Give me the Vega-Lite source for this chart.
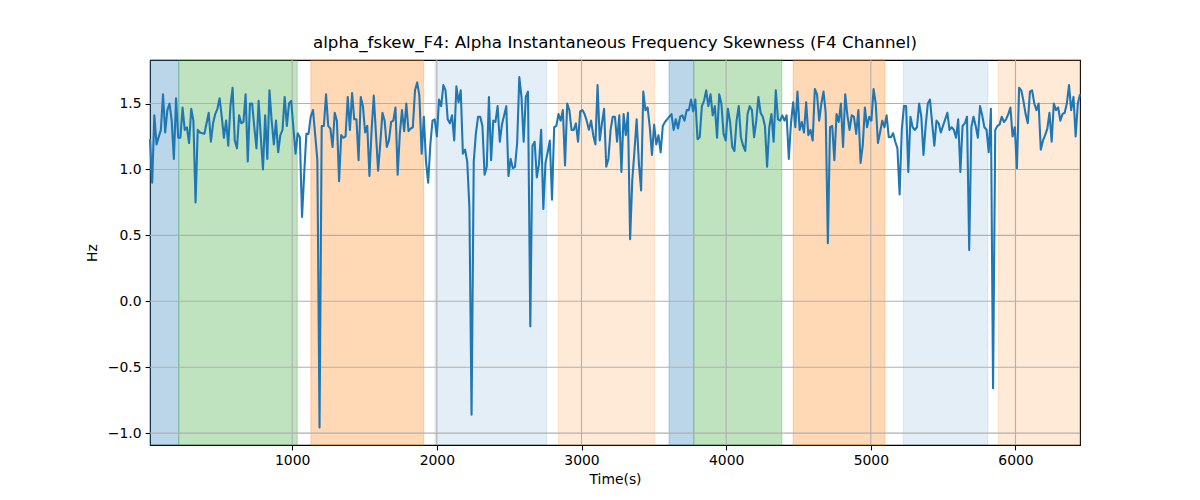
{
  "$schema": "https://vega.github.io/schema/vega-lite/v6.json",
  "width": 930,
  "height": 385,
  "autosize": {"type": "none"},
  "padding": {"left": 150, "top": 60, "right": 120, "bottom": 55},
  "background": "white",
  "title": {
    "text": "alpha_fskew_F4: Alpha Instantaneous Frequency Skewness (F4 Channel)",
    "font": "DejaVu Sans",
    "fontSize": 16.7,
    "fontWeight": "normal",
    "color": "black",
    "offset": 8
  },
  "config": {
    "view": {"stroke": "black", "strokeWidth": 1.1},
    "axis": {
      "domain": false,
      "grid": false,
      "tickColor": "black",
      "tickSize": 4.9,
      "tickWidth": 1.1,
      "labelFont": "DejaVu Sans",
      "labelFontSize": 13.9,
      "labelColor": "black",
      "labelPadding": 4,
      "titleFont": "DejaVu Sans",
      "titleFontSize": 13.9,
      "titleFontWeight": "normal",
      "titleColor": "black"
    }
  },
  "datasets": {
    "bands": [
      {"start": 17, "end": 216, "stage": "A"},
      {"start": 216, "end": 1035, "stage": "B"},
      {"start": 1129, "end": 1909, "stage": "C"},
      {"start": 1987, "end": 2759, "stage": "D"},
      {"start": 2840, "end": 3506, "stage": "E"},
      {"start": 3605, "end": 3776, "stage": "A"},
      {"start": 3776, "end": 4385, "stage": "B"},
      {"start": 4463, "end": 5097, "stage": "C"},
      {"start": 5225, "end": 5809, "stage": "D"},
      {"start": 5882, "end": 6446, "stage": "E"}
    ],
    "xgrid": [{"t": 1000}, {"t": 2000}, {"t": 3000}, {"t": 4000}, {"t": 5000}, {"t": 6000}],
    "ygrid": [{"v": -1}, {"v": -0.5}, {"v": 0}, {"v": 0.5}, {"v": 1}, {"v": 1.5}],
    "series": [
      {"t":17,"v":1.23},{"t":32,"v":0.90},{"t":47,"v":1.41},{"t":62,"v":1.19},{"t":77,"v":1.245},
      {"t":92,"v":1.30},{"t":107,"v":1.57},{"t":122,"v":1.28},{"t":137,"v":1.45},{"t":152,"v":1.50},
      {"t":167,"v":1.37},{"t":182,"v":1.08},{"t":197,"v":1.54},{"t":212,"v":1.24},{"t":227,"v":1.24},
      {"t":242,"v":1.47},{"t":257,"v":1.30},{"t":272,"v":1.32},{"t":287,"v":1.20},{"t":302,"v":1.46},
      {"t":317,"v":1.37},{"t":332,"v":0.75},{"t":347,"v":1.30},{"t":362,"v":1.28},{"t":377,"v":1.275},
      {"t":393,"v":1.27},{"t":408,"v":1.35},{"t":423,"v":1.43},{"t":438,"v":1.21},{"t":453,"v":1.35},
      {"t":468,"v":1.42},{"t":483,"v":1.46},{"t":498,"v":1.54},{"t":513,"v":1.40},{"t":528,"v":1.24},
      {"t":543,"v":1.37},{"t":558,"v":1.18},{"t":573,"v":1.48},{"t":588,"v":1.62},{"t":603,"v":1.22},
      {"t":618,"v":1.16},{"t":633,"v":1.41},{"t":648,"v":1.35},{"t":663,"v":1.36},{"t":678,"v":1.57},
      {"t":693,"v":1.06},{"t":708,"v":1.50},{"t":723,"v":1.50},{"t":738,"v":1.32},{"t":753,"v":1.16},
      {"t":768,"v":1.52},{"t":783,"v":1.245},{"t":798,"v":1.00},{"t":813,"v":1.41},{"t":828,"v":1.08},
      {"t":843,"v":1.60},{"t":858,"v":1.37},{"t":873,"v":1.19},{"t":888,"v":1.37},{"t":903,"v":1.13},
      {"t":918,"v":1.26},{"t":933,"v":1.30},{"t":948,"v":1.55},{"t":963,"v":1.33},{"t":978,"v":1.50},
      {"t":993,"v":1.52},{"t":1008,"v":1.32},{"t":1023,"v":1.12},{"t":1038,"v":1.275},{"t":1053,"v":1.245},
      {"t":1068,"v":0.64},{"t":1083,"v":0.97},{"t":1098,"v":1.27},{"t":1113,"v":1.27},{"t":1128,"v":1.40},
      {"t":1144,"v":1.45},{"t":1159,"v":1.26},{"t":1174,"v":1.07},{"t":1189,"v":-0.957},{"t":1204,"v":1.33},
      {"t":1219,"v":1.33},{"t":1234,"v":1.57},{"t":1249,"v":1.33},{"t":1264,"v":1.31},{"t":1279,"v":1.17},
      {"t":1294,"v":1.43},{"t":1309,"v":1.37},{"t":1324,"v":0.91},{"t":1339,"v":1.26},{"t":1354,"v":1.24},
      {"t":1369,"v":1.25},{"t":1384,"v":1.55},{"t":1399,"v":1.30},{"t":1414,"v":1.58},{"t":1429,"v":1.38},
      {"t":1444,"v":1.38},{"t":1459,"v":1.07},{"t":1474,"v":1.55},{"t":1489,"v":1.48},{"t":1504,"v":1.28},
      {"t":1519,"v":1.33},{"t":1534,"v":0.95},{"t":1549,"v":1.30},{"t":1564,"v":1.56},{"t":1579,"v":1.27},
      {"t":1594,"v":0.99},{"t":1609,"v":1.20},{"t":1624,"v":1.43},{"t":1639,"v":1.37},{"t":1654,"v":1.17},
      {"t":1669,"v":1.22},{"t":1684,"v":1.36},{"t":1699,"v":1.37},{"t":1714,"v":1.47},{"t":1729,"v":0.96},
      {"t":1744,"v":1.27},{"t":1759,"v":1.45},{"t":1774,"v":1.29},{"t":1789,"v":1.50},{"t":1804,"v":1.29},
      {"t":1819,"v":1.31},{"t":1834,"v":1.32},{"t":1849,"v":1.60},{"t":1864,"v":1.66},{"t":1879,"v":1.56},
      {"t":1895,"v":1.12},{"t":1910,"v":1.40},{"t":1925,"v":1.06},{"t":1940,"v":0.90},{"t":1955,"v":1.19},
      {"t":1970,"v":1.37},{"t":1985,"v":1.38},{"t":2000,"v":1.25},{"t":2015,"v":1.53},{"t":2030,"v":1.48},
      {"t":2045,"v":1.64},{"t":2060,"v":1.60},{"t":2075,"v":1.38},{"t":2090,"v":1.35},{"t":2105,"v":1.41},
      {"t":2120,"v":1.22},{"t":2135,"v":1.63},{"t":2150,"v":1.51},{"t":2165,"v":1.60},{"t":2180,"v":1.12},
      {"t":2195,"v":1.15},{"t":2210,"v":1.06},{"t":2225,"v":0.71},{"t":2240,"v":-0.86},{"t":2255,"v":1.06},
      {"t":2270,"v":1.275},{"t":2285,"v":1.40},{"t":2300,"v":1.40},{"t":2315,"v":1.33},{"t":2330,"v":0.96},
      {"t":2345,"v":1.02},{"t":2360,"v":1.55},{"t":2375,"v":1.07},{"t":2390,"v":1.37},{"t":2405,"v":1.36},
      {"t":2420,"v":1.48},{"t":2435,"v":1.21},{"t":2450,"v":1.34},{"t":2465,"v":1.41},{"t":2480,"v":1.48},
      {"t":2495,"v":0.95},{"t":2510,"v":1.08},{"t":2525,"v":1.01},{"t":2540,"v":1.02},{"t":2555,"v":1.20},
      {"t":2570,"v":1.70},{"t":2585,"v":1.55},{"t":2600,"v":1.21},{"t":2615,"v":1.55},{"t":2630,"v":1.59},
      {"t":2646,"v":-0.19},{"t":2661,"v":1.18},{"t":2676,"v":1.21},{"t":2691,"v":0.94},{"t":2706,"v":1.04},
      {"t":2721,"v":1.30},{"t":2736,"v":0.70},{"t":2751,"v":1.05},{"t":2766,"v":1.13},{"t":2781,"v":1.22},
      {"t":2796,"v":0.77},{"t":2811,"v":1.32},{"t":2826,"v":1.33},{"t":2841,"v":1.42},{"t":2856,"v":1.37},
      {"t":2871,"v":1.45},{"t":2886,"v":1.03},{"t":2901,"v":1.50},{"t":2916,"v":1.45},{"t":2931,"v":1.30},
      {"t":2946,"v":1.30},{"t":2961,"v":1.35},{"t":2976,"v":1.21},{"t":2991,"v":1.44},{"t":3006,"v":1.45},
      {"t":3021,"v":1.42},{"t":3036,"v":1.37},{"t":3051,"v":1.30},{"t":3066,"v":1.37},{"t":3081,"v":1.26},
      {"t":3096,"v":1.19},{"t":3111,"v":1.64},{"t":3126,"v":1.22},{"t":3141,"v":1.35},{"t":3156,"v":1.46},
      {"t":3171,"v":1.02},{"t":3186,"v":1.08},{"t":3201,"v":1.30},{"t":3216,"v":1.40},{"t":3231,"v":1.40},
      {"t":3246,"v":1.21},{"t":3261,"v":1.41},{"t":3276,"v":0.98},{"t":3291,"v":1.42},{"t":3306,"v":1.26},
      {"t":3321,"v":1.43},{"t":3336,"v":0.47},{"t":3351,"v":0.92},{"t":3366,"v":1.14},{"t":3381,"v":1.38},
      {"t":3397,"v":1.04},{"t":3412,"v":0.84},{"t":3427,"v":1.59},{"t":3442,"v":1.45},{"t":3457,"v":1.47},
      {"t":3472,"v":1.32},{"t":3487,"v":1.11},{"t":3502,"v":1.34},{"t":3517,"v":1.19},{"t":3532,"v":1.26},
      {"t":3547,"v":1.13},{"t":3562,"v":1.33},{"t":3577,"v":1.36},{"t":3592,"v":1.38},{"t":3607,"v":1.40},
      {"t":3622,"v":1.42},{"t":3637,"v":1.30},{"t":3652,"v":1.38},{"t":3667,"v":1.31},{"t":3682,"v":1.40},
      {"t":3697,"v":1.41},{"t":3712,"v":1.37},{"t":3727,"v":1.45},{"t":3742,"v":1.45},{"t":3757,"v":1.53},
      {"t":3772,"v":1.44},{"t":3787,"v":1.53},{"t":3802,"v":1.23},{"t":3817,"v":1.245},{"t":3832,"v":1.48},
      {"t":3847,"v":1.52},{"t":3862,"v":1.60},{"t":3877,"v":1.48},{"t":3892,"v":1.57},{"t":3907,"v":1.41},
      {"t":3922,"v":1.48},{"t":3937,"v":1.24},{"t":3952,"v":1.57},{"t":3967,"v":1.50},{"t":3982,"v":1.27},
      {"t":3997,"v":1.22},{"t":4012,"v":1.46},{"t":4027,"v":1.36},{"t":4042,"v":1.17},{"t":4057,"v":1.14},
      {"t":4072,"v":1.37},{"t":4087,"v":1.48},{"t":4102,"v":1.245},{"t":4117,"v":1.18},{"t":4132,"v":1.14},
      {"t":4148,"v":1.42},{"t":4163,"v":1.48},{"t":4178,"v":1.45},{"t":4193,"v":1.245},{"t":4208,"v":1.37},
      {"t":4223,"v":1.55},{"t":4238,"v":1.43},{"t":4253,"v":1.40},{"t":4268,"v":1.33},{"t":4283,"v":1.02},
      {"t":4298,"v":1.32},{"t":4313,"v":1.42},{"t":4328,"v":1.21},{"t":4343,"v":1.60},{"t":4358,"v":1.38},
      {"t":4373,"v":1.37},{"t":4388,"v":1.41},{"t":4403,"v":1.37},{"t":4418,"v":1.41},{"t":4433,"v":1.08},
      {"t":4448,"v":1.35},{"t":4463,"v":1.51},{"t":4478,"v":1.32},{"t":4493,"v":1.59},{"t":4508,"v":1.30},
      {"t":4523,"v":1.36},{"t":4538,"v":1.28},{"t":4553,"v":1.51},{"t":4568,"v":1.26},{"t":4583,"v":1.30},
      {"t":4598,"v":1.22},{"t":4613,"v":1.61},{"t":4628,"v":1.57},{"t":4643,"v":1.37},{"t":4658,"v":1.50},
      {"t":4673,"v":1.59},{"t":4688,"v":1.43},{"t":4703,"v":0.44},{"t":4718,"v":1.32},{"t":4733,"v":1.33},
      {"t":4748,"v":1.07},{"t":4763,"v":1.42},{"t":4778,"v":1.36},{"t":4793,"v":1.50},{"t":4808,"v":1.17},
      {"t":4823,"v":1.57},{"t":4838,"v":1.41},{"t":4853,"v":1.30},{"t":4868,"v":1.41},{"t":4883,"v":1.40},
      {"t":4899,"v":1.27},{"t":4914,"v":1.45},{"t":4929,"v":1.05},{"t":4944,"v":1.18},{"t":4959,"v":1.47},
      {"t":4974,"v":1.32},{"t":4989,"v":1.40},{"t":5004,"v":1.37},{"t":5019,"v":1.61},{"t":5034,"v":1.50},
      {"t":5049,"v":1.20},{"t":5064,"v":1.28},{"t":5079,"v":1.37},{"t":5094,"v":1.32},{"t":5109,"v":1.41},
      {"t":5124,"v":1.245},{"t":5139,"v":1.245},{"t":5154,"v":1.275},{"t":5169,"v":1.21},{"t":5184,"v":1.16},
      {"t":5199,"v":0.81},{"t":5214,"v":1.30},{"t":5229,"v":1.48},{"t":5244,"v":1.48},{"t":5259,"v":0.98},
      {"t":5274,"v":1.40},{"t":5289,"v":1.32},{"t":5304,"v":1.30},{"t":5319,"v":1.32},{"t":5334,"v":1.50},
      {"t":5349,"v":1.40},{"t":5364,"v":1.11},{"t":5379,"v":1.33},{"t":5394,"v":1.50},{"t":5409,"v":1.53},
      {"t":5424,"v":1.35},{"t":5439,"v":1.18},{"t":5454,"v":1.37},{"t":5469,"v":1.35},{"t":5484,"v":1.28},
      {"t":5499,"v":1.33},{"t":5514,"v":1.38},{"t":5529,"v":1.43},{"t":5544,"v":1.30},{"t":5559,"v":1.32},
      {"t":5574,"v":1.30},{"t":5589,"v":1.24},{"t":5604,"v":1.38},{"t":5619,"v":0.98},{"t":5634,"v":1.33},
      {"t":5650,"v":1.35},{"t":5665,"v":1.40},{"t":5680,"v":0.39},{"t":5695,"v":1.32},{"t":5710,"v":1.40},
      {"t":5725,"v":1.33},{"t":5740,"v":1.24},{"t":5755,"v":1.48},{"t":5770,"v":1.41},{"t":5785,"v":1.32},
      {"t":5800,"v":1.30},{"t":5815,"v":1.13},{"t":5830,"v":1.46},{"t":5845,"v":-0.66},{"t":5860,"v":1.30},
      {"t":5875,"v":1.33},{"t":5890,"v":1.34},{"t":5905,"v":1.40},{"t":5920,"v":1.36},{"t":5935,"v":1.38},
      {"t":5950,"v":1.42},{"t":5965,"v":1.47},{"t":5980,"v":1.25},{"t":5995,"v":1.32},{"t":6010,"v":1.01},
      {"t":6025,"v":1.62},{"t":6040,"v":1.60},{"t":6055,"v":1.52},{"t":6070,"v":1.42},{"t":6085,"v":1.35},
      {"t":6100,"v":1.59},{"t":6115,"v":1.60},{"t":6130,"v":1.50},{"t":6145,"v":1.45},{"t":6160,"v":1.50},
      {"t":6175,"v":1.15},{"t":6190,"v":1.22},{"t":6205,"v":1.26},{"t":6220,"v":1.31},{"t":6235,"v":1.43},
      {"t":6250,"v":1.21},{"t":6265,"v":1.50},{"t":6280,"v":1.45},{"t":6295,"v":1.47},{"t":6310,"v":1.37},
      {"t":6325,"v":1.42},{"t":6340,"v":1.43},{"t":6355,"v":1.50},{"t":6370,"v":1.64},{"t":6385,"v":1.45},
      {"t":6401,"v":1.55},{"t":6416,"v":1.25},{"t":6431,"v":1.50},{"t":6446,"v":1.57}
    ]
  },
  "layer": [
    {
      "data": {"name": "bands"},
      "mark": {"type": "rect", "strokeWidth": 1},
      "encoding": {
        "x": {
          "field": "start",
          "type": "quantitative",
          "scale": {"domain": [17, 6446], "nice": false, "zero": false},
          "axis": {"values": [1000, 2000, 3000, 4000, 5000, 6000], "format": "d", "title": "Time(s)", "titlePadding": 5}
        },
        "x2": {"field": "end"},
        "color": {
          "field": "stage",
          "type": "nominal",
          "scale": {
            "domain": ["A", "B", "C", "D", "E"],
            "range": ["rgba(31,119,180,0.3)", "rgba(44,160,44,0.3)", "rgba(255,127,14,0.3)", "rgba(31,119,180,0.12)", "rgba(255,127,14,0.16)"]
          },
          "legend": null
        },
        "stroke": {
          "field": "stage",
          "type": "nominal",
          "scale": {
            "domain": ["A", "B", "C", "D", "E"],
            "range": ["rgba(31,119,180,0.3)", "rgba(44,160,44,0.3)", "rgba(255,127,14,0.3)", "rgba(31,119,180,0.12)", "rgba(255,127,14,0.16)"]
          },
          "legend": null
        }
      }
    },
    {
      "data": {"name": "xgrid"},
      "mark": {"type": "rule", "color": "#b0b0b0", "strokeWidth": 1.1},
      "encoding": {
        "x": {
          "field": "t",
          "type": "quantitative",
          "scale": {"domain": [17, 6446], "nice": false, "zero": false},
          "axis": {"values": [1000, 2000, 3000, 4000, 5000, 6000], "format": "d", "title": "Time(s)", "titlePadding": 5}
        }
      }
    },
    {
      "data": {"name": "ygrid"},
      "mark": {"type": "rule", "color": "#b0b0b0", "strokeWidth": 1.1},
      "encoding": {
        "y": {
          "field": "v",
          "type": "quantitative",
          "scale": {"domain": [-1.09, 1.83], "nice": false, "zero": false},
          "axis": {"values": [-1, -0.5, 0, 0.5, 1, 1.5], "format": ".1f", "title": "Hz", "titlePadding": 8}
        }
      }
    },
    {
      "data": {"name": "series"},
      "mark": {"type": "line", "color": "#1f77b4", "strokeWidth": 2.08, "strokeJoin": "round"},
      "encoding": {
        "x": {
          "field": "t",
          "type": "quantitative",
          "scale": {"domain": [17, 6446], "nice": false, "zero": false},
          "axis": {"values": [1000, 2000, 3000, 4000, 5000, 6000], "format": "d", "title": "Time(s)", "titlePadding": 5}
        },
        "y": {
          "field": "v",
          "type": "quantitative",
          "scale": {"domain": [-1.09, 1.83], "nice": false, "zero": false},
          "axis": {"values": [-1, -0.5, 0, 0.5, 1, 1.5], "format": ".1f", "title": "Hz", "titlePadding": 8}
        }
      }
    }
  ]
}
